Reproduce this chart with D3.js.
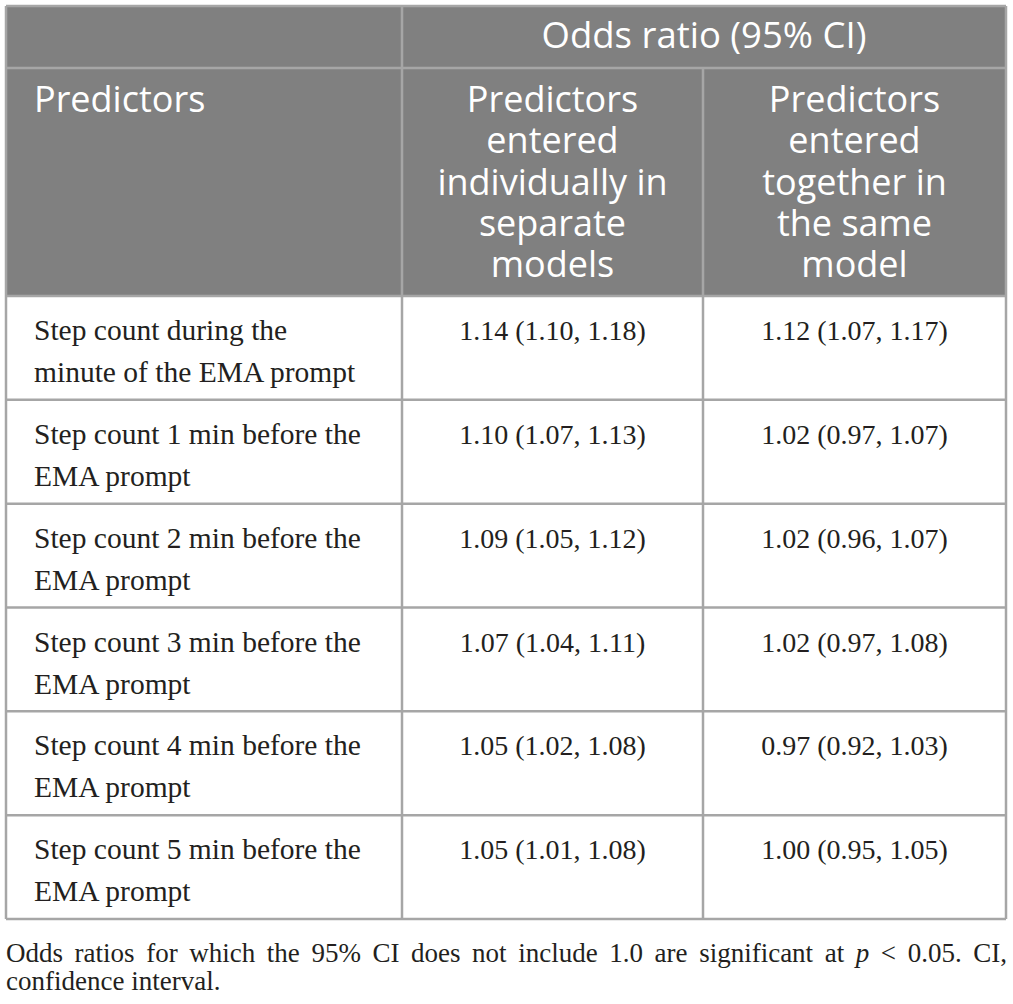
<!DOCTYPE html>
<html>
<head>
<meta charset="utf-8">
<script src="https://cdn.jsdelivr.net/npm/d3@7"></script>
<style>
  body { margin: 0; background: #fff; }
  svg { display: block; }
</style>
</head>
<body>
<svg id="table" width="1013" height="1004"></svg>
<script>
// Table content
const groupHeader = "Odds ratio (95% CI)";
const columnHeaders = [
  ["Predictors"],
  ["Predictors", "entered", "individually in", "separate", "models"],
  ["Predictors", "entered", "together in", "the same", "model"],
];
const predictors = [
  ["Step count during the", "minute of the EMA prompt"],
  ["Step count 1 min before the", "EMA prompt"],
  ["Step count 2 min before the", "EMA prompt"],
  ["Step count 3 min before the", "EMA prompt"],
  ["Step count 4 min before the", "EMA prompt"],
  ["Step count 5 min before the", "EMA prompt"],
];
const individualOR = [
  "1.14 (1.10, 1.18)",
  "1.10 (1.07, 1.13)",
  "1.09 (1.05, 1.12)",
  "1.07 (1.04, 1.11)",
  "1.05 (1.02, 1.08)",
  "1.05 (1.01, 1.08)",
];
const togetherOR = [
  "1.12 (1.07, 1.17)",
  "1.02 (0.97, 1.07)",
  "1.02 (0.96, 1.07)",
  "1.02 (0.97, 1.08)",
  "0.97 (0.92, 1.03)",
  "1.00 (0.95, 1.05)",
];
const footnoteLine1 = [
  "Odds", "ratios", "for", "which", "the", "95%", "CI", "does", "not",
  "include", "1.0", "are", "significant", "at", "p", "<", "0.05.", "CI,",
];
const footnoteLine2 = "confidence interval.";

// Layout
const colEdges = [6, 402, 703, 1006];
const headTop = 6, headSplit = 68, bodyTop = 296, bodyBottom = 919;
const gridColor = "#a6a6a6";
const headFill = "#808080";
const textColor = "#231f20";
const sans = "'Open Sans', sans-serif";
const serif = "'Liberation Serif', 'Times New Roman', serif";

const svg = d3.select("#table");

const rowScale = d3
  .scaleBand()
  .domain(d3.range(predictors.length))
  .range([bodyTop, bodyBottom]);

// Header background
svg
  .append("rect")
  .attr("x", colEdges[0])
  .attr("y", headTop)
  .attr("width", colEdges[3] - colEdges[0])
  .attr("height", bodyTop - headTop)
  .attr("fill", headFill);

// Group header
svg
  .append("text")
  .attr("x", (colEdges[1] + colEdges[3]) / 2)
  .attr("y", headTop + 42)
  .attr("text-anchor", "middle")
  .attr("font-family", sans)
  .attr("font-size", 36.5)
  .attr("fill", "#fff")
  .text(groupHeader);

// Column headers
columnHeaders.forEach((lines, c) => {
  const t = svg
    .append("text")
    .attr("font-family", sans)
    .attr("font-size", 36)
    .attr("fill", "#fff")
    .attr("text-anchor", c === 0 ? "start" : "middle");
  const x = c === 0 ? colEdges[0] + 28 : (colEdges[c] + colEdges[c + 1]) / 2;
  t.selectAll("tspan")
    .data(lines)
    .enter()
    .append("tspan")
    .attr("x", x)
    .attr("y", (d, i) => headSplit + 44 + i * 41.3)
    .text((d) => d);
});

// Body cells
const rows = svg
  .selectAll("g.row")
  .data(predictors.map((p, i) => ({ p, a: individualOR[i], b: togetherOR[i], i })))
  .enter()
  .append("g")
  .attr("class", "row")
  .attr("transform", (d) => `translate(0, ${rowScale(d.i)})`);

rows
  .append("text")
  .attr("font-family", serif)
  .attr("font-size", 29.5)
  .attr("fill", textColor)
  .selectAll("tspan")
  .data((d) => d.p)
  .enter()
  .append("tspan")
  .attr("x", colEdges[0] + 28)
  .attr("y", (d, i) => 44 + i * 42)
  .text((d) => d);

[["a", 1], ["b", 2]].forEach(([key, c]) => {
  rows
    .append("text")
    .attr("x", (colEdges[c] + colEdges[c + 1]) / 2)
    .attr("y", 44)
    .attr("text-anchor", "middle")
    .attr("font-family", serif)
    .attr("font-size", 28)
    .attr("fill", textColor)
    .text((d) => d[key]);
});

// Grid lines
const grid = svg.append("g").attr("stroke", gridColor).attr("stroke-width", 2.5);
const hLines = [headTop, headSplit, bodyTop, ...rowScale.domain().slice(1).map(rowScale), bodyBottom];
hLines.forEach((y) => {
  grid
    .append("line")
    .attr("x1", colEdges[0])
    .attr("x2", colEdges[3])
    .attr("y1", y)
    .attr("y2", y);
});
colEdges.forEach((x, i) => {
  grid
    .append("line")
    .attr("x1", x)
    .attr("x2", x)
    .attr("y1", i === 2 ? headSplit : headTop)
    .attr("y2", bodyBottom);
});

// Footnote (justified first line)
const foot = svg
  .append("g")
  .attr("font-family", serif)
  .attr("font-size", 27)
  .attr("fill", textColor);
const words = foot
  .selectAll("text.word")
  .data(footnoteLine1)
  .enter()
  .append("text")
  .attr("class", "word")
  .attr("y", 962)
  .attr("font-style", (d) => (d === "p" ? "italic" : "normal"))
  .text((d) => d);
const widths = words.nodes().map((n) => n.getComputedTextLength());
const gap = (1007 - 6 - d3.sum(widths)) / (widths.length - 1);
let cursor = 6;
words.attr("x", (d, i) => {
  const x = cursor;
  cursor += widths[i] + gap;
  return x;
});
foot.append("text").attr("x", 6).attr("y", 990).text(footnoteLine2);
</script>
</body>
</html>
